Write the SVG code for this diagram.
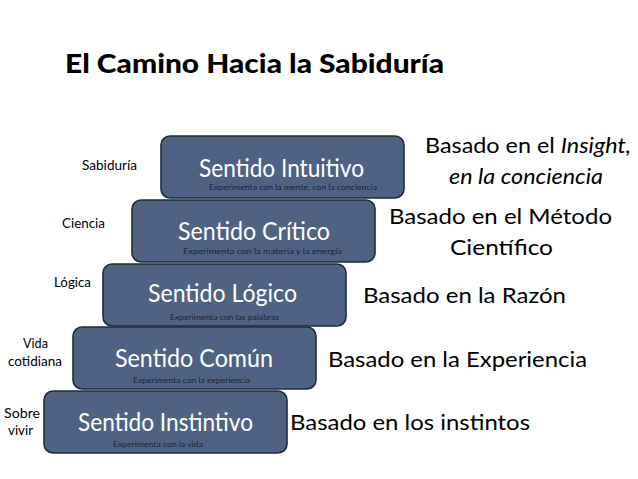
<svg xmlns="http://www.w3.org/2000/svg" width="638" height="479" viewBox="0 0 638 479">
<style>
.box{fill:#4f6283;stroke:#1f2b3c;stroke-width:1.6}
.t{font-family:Lato,"Open Sans","DejaVu Sans",sans-serif;fill:#ffffff;font-size:25px}
.s{font-family:Lato,"Open Sans","DejaVu Sans",sans-serif;fill:#1a2333;font-size:8px}
.r{font-family:Lato,"Open Sans","DejaVu Sans",sans-serif;fill:#000;font-size:22px}
.l{font-family:Lato,"Open Sans","DejaVu Sans",sans-serif;fill:#000;font-size:13px}
.h{font-family:Lato,"Open Sans","DejaVu Sans",sans-serif;fill:#000;font-size:26px;font-weight:900}
</style>
<rect width="638" height="479" fill="#fff"/>
<text class="h" x="65" y="73" textLength="379" lengthAdjust="spacingAndGlyphs">El Camino Hacia la Sabiduría</text>
<g id="connectors"></g>
<g id="n-intuitivo">
<rect class="box" x="161" y="136" width="243" height="62" rx="9"/>
<text class="t" x="199" y="177" textLength="165" lengthAdjust="spacingAndGlyphs">Sentido Intuitivo</text>
<text class="s" x="209" y="190" textLength="168" lengthAdjust="spacingAndGlyphs">Experimenta con la mente, con la conciencia</text>
</g>
<g id="n-critico">
<rect class="box" x="132" y="200" width="243" height="62" rx="9"/>
<text class="t" x="178" y="240" textLength="152" lengthAdjust="spacingAndGlyphs">Sentido Crítico</text>
<text class="s" x="183" y="254" textLength="159" lengthAdjust="spacingAndGlyphs">Experimenta con la  materia y la energía</text>
</g>
<g id="n-logico">
<rect class="box" x="103" y="264" width="243" height="62" rx="9"/>
<text class="t" x="148" y="302" textLength="149" lengthAdjust="spacingAndGlyphs">Sentido Lógico</text>
<text class="s" x="170" y="320" textLength="109" lengthAdjust="spacingAndGlyphs">Experimenta con las palabras</text>
</g>
<g id="n-comun">
<rect class="box" x="73" y="327" width="243" height="62" rx="9"/>
<text class="t" x="115" y="367" textLength="158" lengthAdjust="spacingAndGlyphs">Sentido Común</text>
<text class="s" x="133" y="383" textLength="117" lengthAdjust="spacingAndGlyphs">Experimenta con la experiencia</text>
</g>
<g id="n-instintivo">
<rect class="box" x="44" y="391" width="243" height="62" rx="9"/>
<text class="t" x="78" y="431" textLength="175" lengthAdjust="spacingAndGlyphs">Sentido Instintivo</text>
<text class="s" x="113" y="447" textLength="90" lengthAdjust="spacingAndGlyphs">Experimenta con la vida</text>
</g>
<g id="right-labels">
<text class="r" x="425" y="153" textLength="206" lengthAdjust="spacingAndGlyphs">Basado en el <tspan font-style="italic">Insight,</tspan></text>
<text class="r" x="449" y="184" font-style="italic" textLength="154" lengthAdjust="spacingAndGlyphs">en la conciencia</text>
<text class="r" x="389" y="224" textLength="223" lengthAdjust="spacingAndGlyphs">Basado en el Método</text>
<text class="r" x="450" y="255" textLength="103" lengthAdjust="spacingAndGlyphs">Científico</text>
<text class="r" x="363" y="303" textLength="203" lengthAdjust="spacingAndGlyphs">Basado en la Razón</text>
<text class="r" x="328" y="367" textLength="259" lengthAdjust="spacingAndGlyphs">Basado en la Experiencia</text>
<text class="r" x="290" y="430" textLength="240" lengthAdjust="spacingAndGlyphs">Basado en los instintos</text>
</g>
<g id="left-labels">
<text class="l" x="82" y="170" textLength="55" lengthAdjust="spacingAndGlyphs">Sabiduría</text>
<text class="l" x="62" y="228" textLength="43" lengthAdjust="spacingAndGlyphs">Ciencia</text>
<text class="l" x="54" y="287" textLength="37" lengthAdjust="spacingAndGlyphs">Lógica</text>
<text class="l" x="23" y="348" textLength="25" lengthAdjust="spacingAndGlyphs">Vida</text>
<text class="l" x="8" y="366" textLength="54" lengthAdjust="spacingAndGlyphs">cotidiana</text>
<text class="l" x="4" y="418" textLength="36" lengthAdjust="spacingAndGlyphs">Sobre</text>
<text class="l" x="8" y="435" textLength="25" lengthAdjust="spacingAndGlyphs">vivir</text>
</g>
</svg>
